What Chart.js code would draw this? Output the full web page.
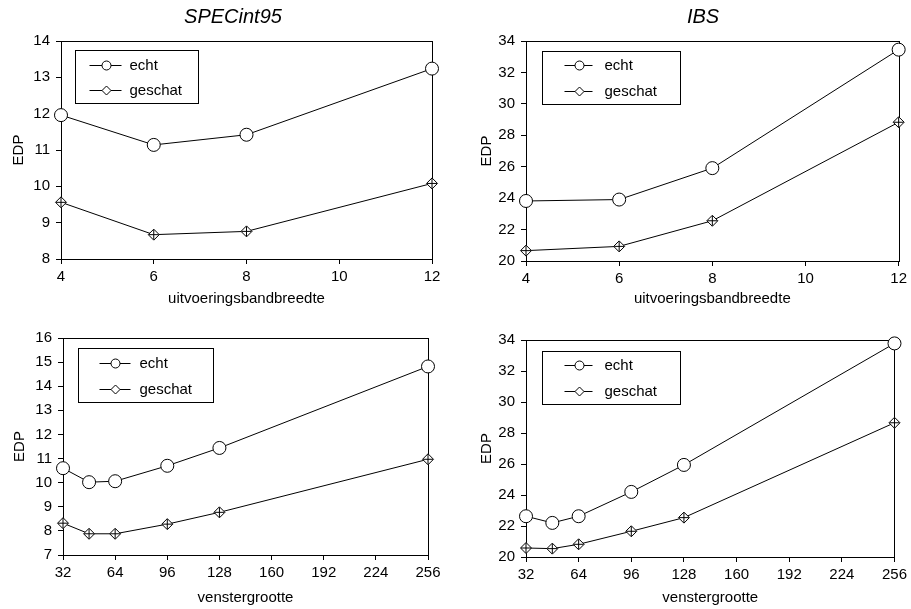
<!DOCTYPE html>
<html>
<head>
<meta charset="utf-8">
<title>EDP: echt vs geschat</title>
<script src="https://cdn.jsdelivr.net/npm/chart.js@4/dist/chart.umd.min.js"></script>
<style>
  html, body { margin: 0; padding: 0; background: #ffffff; }
  #wrap { position: relative; width: 911px; height: 609px; overflow: hidden; background: #ffffff; }
  #wrap canvas { position: absolute; }
</style>
</head>
<body>
<div id="wrap">
  <canvas id="specBand" width="455" height="312" style="left:0px;top:0px"></canvas>
  <canvas id="ibsBand" width="456" height="312" style="left:455px;top:0px"></canvas>
  <canvas id="specWin" width="455" height="309" style="left:0px;top:300px"></canvas>
  <canvas id="ibsWin" width="456" height="309" style="left:455px;top:300px"></canvas>
</div>
<script>
// ---- data ----
const seriesNames = ['echt', 'geschat'];

// x values: execution bandwidth and window size
const bandwidth = [4, 6, 8, 12];
const windowSizes = [32, 48, 64, 96, 128, 256];

// SPECint95, EDP vs uitvoeringsbandbreedte
const specBandEcht    = [11.96, 11.14, 11.42, 13.24];
const specBandGeschat = [9.56, 8.67, 8.76, 10.08];

// IBS, EDP vs uitvoeringsbandbreedte
const ibsBandEcht    = [23.82, 23.91, 25.91, 33.45];
const ibsBandGeschat = [20.66, 20.93, 22.56, 28.83];

// SPECint95, EDP vs venstergrootte
const specWinEcht    = [10.60, 10.02, 10.06, 10.70, 11.44, 14.82];
const specWinGeschat = [8.32, 7.88, 7.88, 8.28, 8.77, 10.97];

// IBS, EDP vs venstergrootte
const ibsWinEcht    = [22.63, 22.20, 22.63, 24.20, 25.94, 33.78];
const ibsWinGeschat = [20.58, 20.54, 20.82, 21.66, 22.54, 28.66];

// axis tick ranges [min, max, step]
const bandTicks = [4, 12, 2];
const windowTicks = [32, 256, 32];
const specBandY = [8, 14, 1];
const ibsY = [20, 34, 2];
const specWinY = [7, 16, 1];

// ---- drawing helpers ----
const FONT = "'Liberation Sans', Arial, Helvetica, sans-serif";

// full black frame around the plot area
const plotFrame = {
  id: 'plotFrame',
  beforeDatasetsDraw(chart) {
    const a = chart.chartArea, ctx = chart.ctx;
    ctx.save();
    ctx.strokeStyle = '#000000';
    ctx.lineWidth = 1;
    const l = Math.round(a.left) + 0.5, t = Math.round(a.top) + 0.5;
    const r = Math.round(a.right) + 0.5, b = Math.round(a.bottom) + 0.5;
    ctx.strokeRect(l, t, r - l, b - t);
    ctx.restore();
  }
};

// boxed legend inside the plot's upper left corner
const boxLegend = {
  id: 'boxLegend',
  afterDatasetsDraw(chart, args, opts) {
    const ctx = chart.ctx, a = chart.chartArea;
    const x0 = Math.round(a.left + opts.dx) + 0.5;
    const y0 = Math.round(a.top + opts.dy) + 0.5;
    ctx.save();
    ctx.fillStyle = '#ffffff';
    ctx.fillRect(x0, y0, opts.w, opts.h);
    ctx.strokeStyle = '#000000';
    ctx.lineWidth = 1;
    ctx.strokeRect(x0, y0, opts.w, opts.h);
    seriesNames.forEach((name, i) => {
      const y = Math.round(y0 + opts.rows[i]) + 0.5;
      const xa = x0 + opts.lineFrom, xb = x0 + opts.lineTo;
      ctx.beginPath();
      ctx.moveTo(xa, y); ctx.lineTo(xb, y);
      ctx.strokeStyle = '#000000';
      ctx.lineWidth = 1;
      ctx.stroke();
      ctx.fillStyle = '#ffffff';
      ctx.strokeStyle = '#000000';
      Chart.helpers.drawPoint(ctx, {
        pointStyle: i === 0 ? 'circle' : 'rectRot',
        radius: 4.5,
        borderWidth: 1,
        rotation: 0
      }, Math.round((xa + xb) / 2) + 0.5, y);
      ctx.fillStyle = '#000000';
      ctx.font = '15px ' + FONT;
      ctx.textAlign = 'left';
      ctx.textBaseline = 'middle';
      ctx.fillText(name, x0 + opts.textX, y + 0.5);
    });
    ctx.restore();
  }
};

// italic panel heading above the plot
const panelHeading = {
  id: 'panelHeading',
  afterDraw(chart, args, opts) {
    if (!opts.text) return;
    const ctx = chart.ctx;
    ctx.save();
    ctx.fillStyle = '#000000';
    ctx.font = 'italic 20px ' + FONT;
    ctx.textAlign = 'center';
    ctx.textBaseline = 'middle';
    ctx.fillText(opts.text, opts.x, opts.y);
    ctx.restore();
  }
};

function points(xs, ys) {
  return xs.map((x, i) => ({ x: x, y: ys[i] }));
}

function makePanel(id, p) {
  const tickFont = { family: FONT, size: 15 };
  return new Chart(document.getElementById(id), {
    type: 'line',
    data: {
      datasets: [
        {
          label: seriesNames[0],
          data: points(p.xs, p.echt),
          order: 1,
          borderColor: '#000000',
          borderWidth: 1,
          pointStyle: 'circle',
          pointRadius: 6.5,
          pointBackgroundColor: '#ffffff',
          pointBorderColor: '#000000',
          pointBorderWidth: 1,
          tension: 0,
          clip: false
        },
        {
          label: seriesNames[1],
          data: points(p.xs, p.geschat),
          order: 2,
          borderColor: '#000000',
          borderWidth: 1,
          pointStyle: 'rectRot',
          pointRadius: 5.5,
          pointBackgroundColor: '#ffffff',
          pointBorderColor: '#000000',
          pointBorderWidth: 1,
          tension: 0,
          clip: false
        },
        {
          // cross drawn inside each geschat diamond, on top of it
          label: '',
          data: points(p.xs, p.geschat),
          order: 0,
          showLine: false,
          pointStyle: 'cross',
          pointRadius: 5,
          pointBorderColor: '#000000',
          pointBorderWidth: 1,
          clip: false
        }
      ]
    },
    options: {
      responsive: false,
      animation: false,
      devicePixelRatio: 1,
      layout: {
        autoPadding: false,
        padding: { left: 0, top: p.padTop, right: p.padRight, bottom: 0 }
      },
      plugins: {
        legend: { display: false },
        tooltip: { enabled: false },
        boxLegend: p.legend,
        panelHeading: p.heading || {}
      },
      scales: {
        x: {
          type: 'linear',
          min: p.xRange[0], max: p.xRange[1],
          afterFit: s => { s.height = p.xH; },
          ticks: { stepSize: p.xRange[2], color: '#000000', font: tickFont, padding: 4, maxRotation: 0 },
          grid: { display: true, drawOnChartArea: false, drawTicks: true, tickLength: 5, color: '#000000' },
          border: { display: true, color: '#000000', width: 1 },
          title: { display: true, text: p.xTitle, color: '#000000', font: { family: FONT, size: 15 }, padding: { top: 0, bottom: p.xTitlePad } }
        },
        y: {
          type: 'linear',
          min: p.yRange[0], max: p.yRange[1],
          afterFit: s => { s.width = p.yW; },
          ticks: { stepSize: p.yRange[2], color: '#000000', font: tickFont, padding: 6 },
          grid: { display: true, drawOnChartArea: false, drawTicks: true, tickLength: 5, color: '#000000' },
          border: { display: true, color: '#000000', width: 1 },
          title: { display: true, text: 'EDP', color: '#000000', font: { family: FONT, size: 15 }, padding: { top: p.yTitlePad, bottom: 0 } }
        }
      }
    },
    plugins: [plotFrame, boxLegend, panelHeading]
  });
}

makePanel('specBand', {
  xs: bandwidth, echt: specBandEcht, geschat: specBandGeschat,
  xRange: bandTicks, yRange: specBandY,
  xTitle: 'uitvoeringsbandbreedte',
  padTop: 41, padRight: 23, yW: 61, xH: 53, xTitlePad: 4, yTitlePad: 10,
  legend: { dx: 14, dy: 9, w: 123, h: 53, lineFrom: 14, lineTo: 46, textX: 54, rows: [14, 39] },
  heading: { text: 'SPECint95', x: 233, y: 17 }
});

makePanel('ibsBand', {
  xs: bandwidth, echt: ibsBandEcht, geschat: ibsBandGeschat,
  xRange: bandTicks, yRange: ibsY,
  xTitle: 'uitvoeringsbandbreedte',
  padTop: 41, padRight: 12, yW: 71, xH: 51, xTitlePad: 4, yTitlePad: 23,
  legend: { dx: 16, dy: 10, w: 138, h: 53, lineFrom: 22, lineTo: 50, textX: 62, rows: [13, 39] },
  heading: { text: 'IBS', x: 248, y: 17 }
});

makePanel('specWin', {
  xs: windowSizes, echt: specWinEcht, geschat: specWinGeschat,
  xRange: windowTicks, yRange: specWinY,
  xTitle: 'venstergrootte',
  padTop: 38, padRight: 27, yW: 63, xH: 54, xTitlePad: 2, yTitlePad: 11,
  legend: { dx: 15, dy: 10, w: 135, h: 54, lineFrom: 21, lineTo: 52, textX: 61, rows: [14, 40] }
});

makePanel('ibsWin', {
  xs: windowSizes, echt: ibsWinEcht, geschat: ibsWinGeschat,
  xRange: windowTicks, yRange: ibsY,
  xTitle: 'venstergrootte',
  padTop: 40, padRight: 16, yW: 71, xH: 52, xTitlePad: 2, yTitlePad: 23,
  legend: { dx: 16, dy: 11, w: 138, h: 53, lineFrom: 22, lineTo: 50, textX: 62, rows: [13, 39] }
});
</script>
</body>
</html>
